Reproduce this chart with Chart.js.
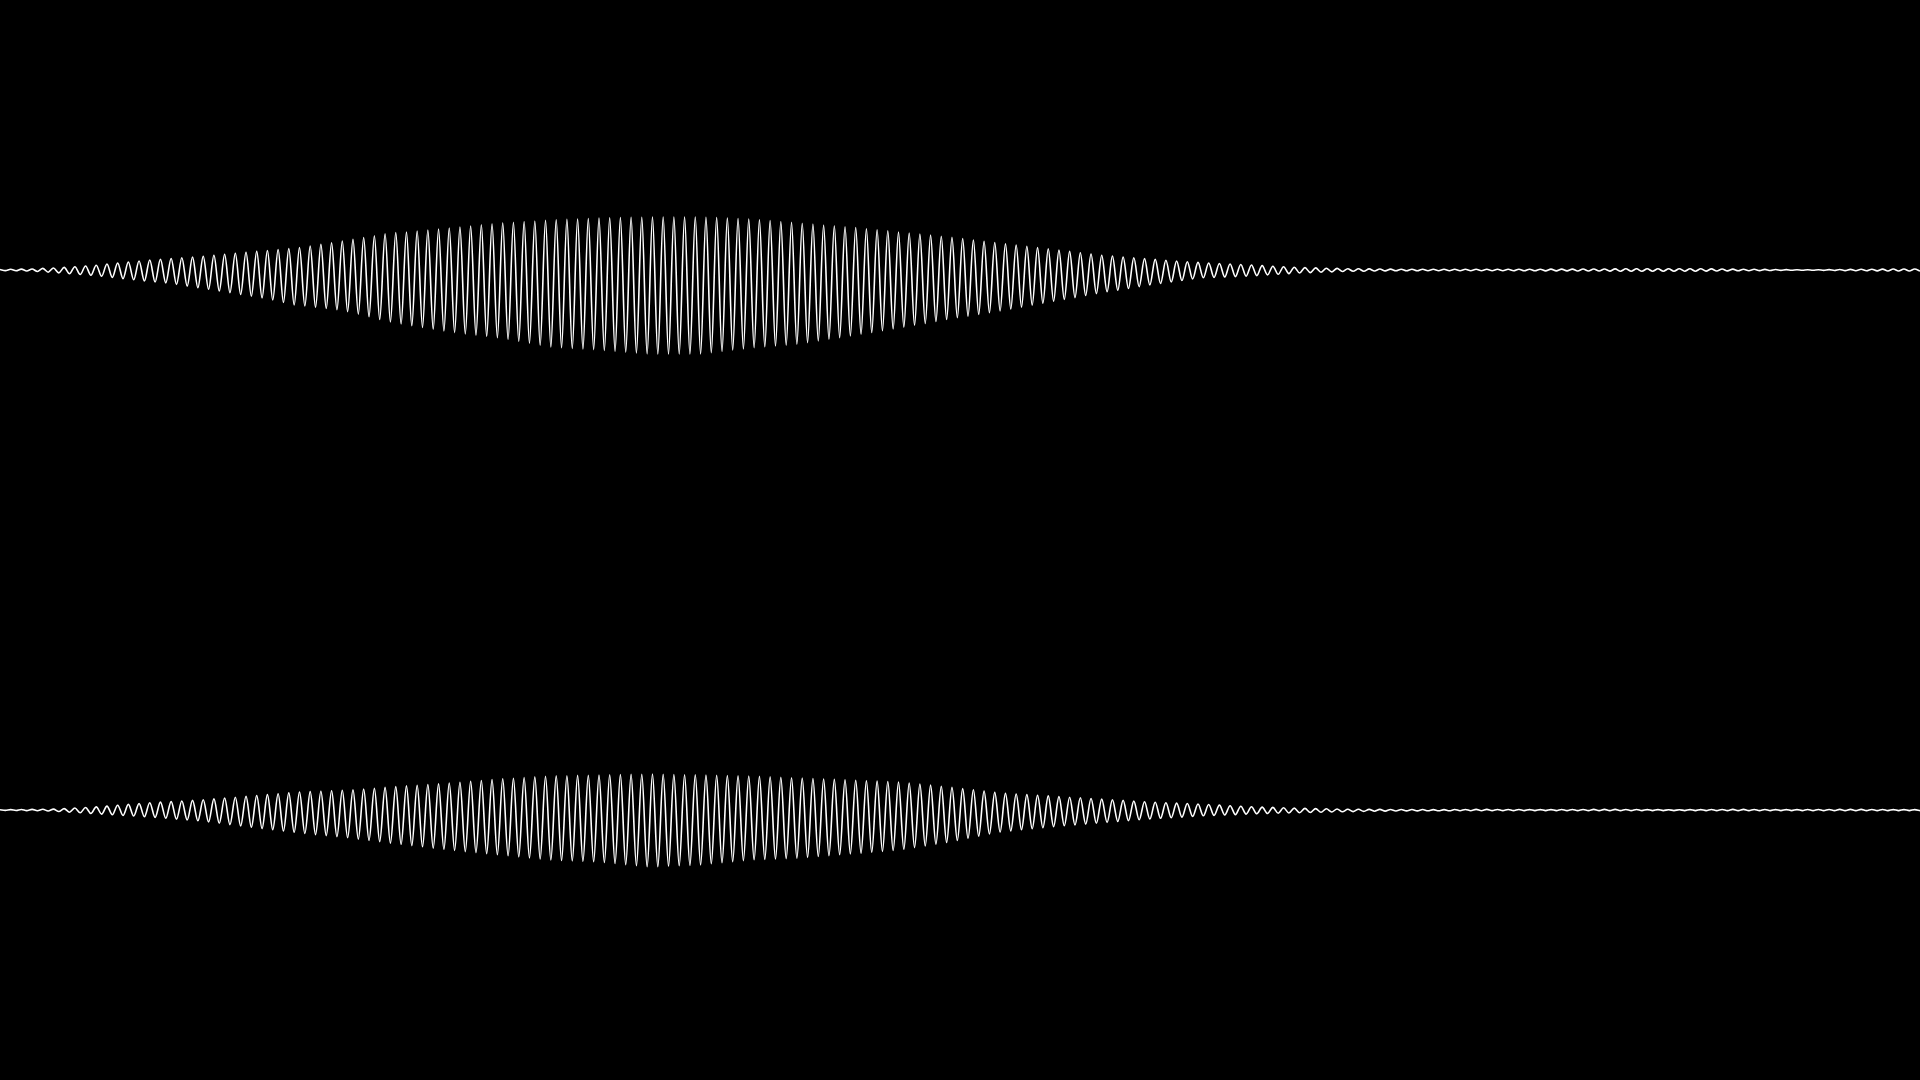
<!DOCTYPE html>
<html>
<head>
<meta charset="utf-8">
<title>Waveform</title>
<script src="https://cdn.jsdelivr.net/npm/chart.js@4/dist/chart.umd.min.js"></script>
<style>
  html, body { margin: 0; padding: 0; background: #000; overflow: hidden; }
  .channel { position: relative; width: 1920px; height: 540px; }
</style>
</head>
<body>
<div class="channel"><canvas id="left"></canvas></div>
<div class="channel"><canvas id="right"></canvas></div>
<script>
// peak (up) and trough (down) heights per cycle
const topUp = [0.05,0.07,0.09,0.1,0.16,0.2,0.26,0.33,0.4,0.47,
  0.6,0.7,0.8,0.9,1.0,1.07,1.15,1.22,1.3,1.38,
  1.48,1.58,1.67,1.77,1.86,1.95,2.05,2.15,2.25,2.4,
  2.57,2.72,2.9,3.06,3.25,3.43,3.62,3.75,3.8,3.9,
  4.0,4.1,4.2,4.3,4.4,4.52,4.62,4.72,4.78,4.85,
  4.9,4.98,5.03,5.07,5.1,5.15,5.2,5.22,5.24,5.26,
  5.28,5.3,5.3,5.3,5.3,5.3,5.28,5.24,5.2,5.15,
  5.1,5.03,4.95,4.85,4.77,4.68,4.6,4.5,4.42,4.33,
  4.25,4.13,4.03,3.92,3.8,3.7,3.6,3.5,3.38,3.27,
  3.14,3.0,2.87,2.75,2.63,2.5,2.37,2.25,2.12,1.99,
  1.86,1.73,1.6,1.48,1.4,1.3,1.22,1.14,1.06,0.98,
  0.9,0.83,0.76,0.7,0.65,0.6,0.55,0.5,0.44,0.38,
  0.33,0.28,0.24,0.21,0.18,0.16,0.13,0.12,0.11,0.1,
  0.09,0.08,0.08,0.08,0.07,0.07,0.07,0.07,0.07,0.07,
  0.07,0.07,0.08,0.08,0.08,0.09,0.09,0.09,0.1,0.1,
  0.1,0.11,0.12,0.12,0.13,0.13,0.13,0.13,0.12,0.12,
  0.11,0.1,0.09,0.08,0.07,0.06,0.05,0.04,0.03,0.03,
  0.03,0.04,0.05,0.06,0.07,0.08,0.09,0.1,0.1,0.1];

const topDown = [0.06,0.08,0.1,0.15,0.22,0.29,0.37,0.45,0.53,0.62,
  0.74,0.86,0.98,1.1,1.2,1.29,1.44,1.61,1.77,1.93,
  2.1,2.27,2.45,2.62,2.79,3.0,3.25,3.5,3.6,3.72,
  3.85,3.98,4.17,4.41,4.68,4.95,5.2,5.4,5.57,5.75,
  5.92,6.1,6.26,6.39,6.52,6.64,6.77,6.95,7.15,7.33,
  7.53,7.7,7.77,7.84,7.9,7.96,8.04,8.12,8.21,8.3,
  8.38,8.4,8.4,8.4,8.4,8.39,8.26,8.13,8.0,7.88,
  7.76,7.68,7.59,7.51,7.42,7.27,7.1,6.93,6.76,6.59,
  6.42,6.25,6.08,5.9,5.72,5.53,5.34,5.15,4.95,4.78,
  4.61,4.44,4.27,4.09,3.9,3.71,3.51,3.32,3.13,2.94,
  2.76,2.55,2.36,2.18,2.02,1.85,1.67,1.5,1.35,1.2,
  1.05,0.9,0.78,0.74,0.7,0.66,0.62,0.56,0.49,0.43,
  0.36,0.3,0.26,0.23,0.19,0.15,0.13,0.12,0.1,0.09,
  0.08,0.08,0.08,0.07,0.07,0.07,0.07,0.07,0.07,0.07,
  0.07,0.08,0.08,0.08,0.09,0.09,0.09,0.1,0.1,0.1,
  0.11,0.12,0.12,0.13,0.13,0.13,0.13,0.12,0.12,0.11,
  0.1,0.09,0.08,0.07,0.06,0.05,0.04,0.03,0.03,0.03,
  0.04,0.05,0.06,0.07,0.08,0.09,0.1,0.1,0.1,0.1];

const botUp = [0.03,0.04,0.05,0.06,0.07,0.09,0.14,0.2,0.25,0.31,
  0.39,0.47,0.56,0.64,0.73,0.79,0.84,0.9,0.96,1.03,
  1.11,1.2,1.28,1.37,1.45,1.54,1.63,1.71,1.8,1.84,
  1.88,1.93,1.97,2.02,2.1,2.18,2.26,2.34,2.41,2.48,
  2.55,2.62,2.7,2.78,2.87,2.95,3.04,3.12,3.18,3.25,
  3.31,3.37,3.41,3.43,3.46,3.48,3.5,3.52,3.54,3.56,
  3.58,3.6,3.57,3.55,3.53,3.51,3.49,3.47,3.45,3.42,
  3.4,3.36,3.32,3.28,3.23,3.19,3.15,3.1,3.06,3.02,
  2.98,2.93,2.89,2.85,2.8,2.7,2.6,2.49,2.38,2.27,
  2.14,2.02,1.89,1.76,1.66,1.6,1.54,1.47,1.41,1.34,
  1.28,1.22,1.15,1.09,1.02,0.96,0.89,0.83,0.78,0.73,
  0.69,0.65,0.6,0.55,0.49,0.43,0.38,0.32,0.29,0.26,
  0.22,0.19,0.16,0.14,0.12,0.1,0.07,0.07,0.06,0.06,
  0.05,0.05,0.05,0.05,0.04,0.04,0.05,0.05,0.06,0.06,
  0.05,0.05,0.05,0.04,0.04,0.04,0.05,0.05,0.05,0.06,
  0.06,0.06,0.05,0.05,0.04,0.04,0.03,0.03,0.04,0.04,
  0.05,0.05,0.06,0.06,0.05,0.05,0.04,0.04,0.04,0.05,
  0.05,0.05,0.06,0.06,0.06,0.05,0.05,0.04,0.04,0.04];

const botDown = [0.04,0.05,0.06,0.08,0.1,0.15,0.22,0.28,0.35,0.41,
  0.47,0.54,0.6,0.67,0.74,0.83,0.91,1.0,1.08,1.2,
  1.33,1.46,1.59,1.72,1.85,1.97,2.1,2.23,2.35,2.46,
  2.56,2.67,2.78,2.91,3.04,3.17,3.31,3.43,3.56,3.68,
  3.81,3.93,4.04,4.16,4.26,4.37,4.48,4.58,4.69,4.8,
  4.9,5.0,5.05,5.09,5.13,5.18,5.25,5.35,5.46,5.57,
  5.67,5.67,5.62,5.58,5.54,5.49,5.38,5.28,5.17,5.06,
  4.98,4.94,4.9,4.86,4.81,4.74,4.65,4.57,4.48,4.39,
  4.31,4.23,4.14,4.05,3.93,3.76,3.59,3.42,3.25,3.05,
  2.83,2.62,2.4,2.2,2.09,1.98,1.87,1.77,1.67,1.58,
  1.5,1.41,1.33,1.24,1.15,1.07,0.98,0.9,0.83,0.77,
  0.71,0.64,0.58,0.54,0.5,0.46,0.41,0.38,0.35,0.32,
  0.3,0.27,0.25,0.23,0.2,0.18,0.16,0.14,0.12,0.11,
  0.1,0.09,0.09,0.08,0.08,0.08,0.07,0.07,0.07,0.06,
  0.06,0.06,0.06,0.06,0.06,0.06,0.06,0.06,0.06,0.06,
  0.06,0.06,0.06,0.06,0.06,0.06,0.06,0.06,0.06,0.06,
  0.06,0.06,0.06,0.06,0.06,0.06,0.06,0.06,0.06,0.06,
  0.06,0.06,0.06,0.06,0.06,0.06,0.06,0.06,0.06,0.06];

const yMax = 27;

// peak, trough, peak, trough...
function samples(up, down) {
  const out = [];
  for (let k = 0; k < up.length; k++) {
    out.push(up[k]);
    out.push(-down[k]);
  }
  return out;
}

function drawChannel(id, values) {
  const ctx = document.getElementById(id).getContext("2d");
  new Chart(ctx, {
    type: "line",
    data: {
      labels: values.map((v, i) => i),
      datasets: [
        {
          data: values,
          borderColor: "#ffffff",
          borderWidth: 1.6,
          pointRadius: 0,
          cubicInterpolationMode: "monotone",
          fill: false,
        },
      ],
    },
    options: {
      responsive: true,
      maintainAspectRatio: false,
      animation: false,
      events: [],
      layout: { padding: 0 },
      plugins: {
        legend: { display: false },
        tooltip: { enabled: false },
      },
      scales: {
        x: { display: false, offset: false },
        y: { display: false, min: -yMax, max: yMax },
      },
    },
  });
}

drawChannel("left", samples(topUp, topDown));
drawChannel("right", samples(botUp, botDown));
</script>
</body>
</html>
